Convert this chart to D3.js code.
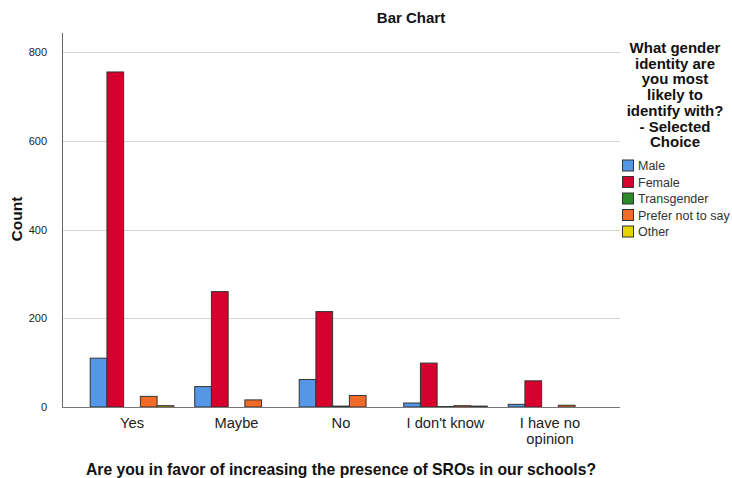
<!DOCTYPE html>
<html><head><meta charset="utf-8">
<script src="https://cdn.jsdelivr.net/npm/d3@7"></script>
<style>body{margin:0;background:#fff;}svg{display:block;font-family:"Liberation Sans",Arial,sans-serif;}</style>
</head><body><svg id="c" width="732" height="478"></svg>
<script>
const categories = ["Yes", "Maybe", "No", "I don't know", "I have no opinion"];
const categoryLines = [["Yes"], ["Maybe"], ["No"], ["I don't know"], ["I have no", "opinion"]];
const seriesNames = ["Male", "Female", "Transgender", "Prefer not to say", "Other"];
const seriesColors = ["#5596e6", "#d6002f", "#2a8a2a", "#f26a28", "#e6d400"];
const male = [110, 46, 62, 9, 6];
const female = [755, 260, 215, 99, 59];
const transgender = [0, 0, 2, 1, 0];
const preferNot = [24, 16, 26, 3, 4];
const other = [3, 0, 0, 2, 0];
const yTicks = [0, 200, 400, 600, 800];
const legendTitle = ["What gender", "identity are", "you most", "likely to", "identify with?", "- Selected", "Choice"];

(function () {
const seriesValues = [male, female, transgender, preferNot, other];
const svg = d3.select("#c");
const pLeft = 62, pRight = 620, pTop = 33, pBottom = 407;

const y = d3.scaleLinear().domain([0, 840]).range([pBottom, pBottom - 840 * (355 / 800)]);
const x0 = d3.scaleBand().domain(categories).range([pLeft, pRight]).paddingInner(0.2).paddingOuter(0.27);
const x1 = d3.scaleBand().domain(seriesNames).range([0, x0.bandwidth()]);

// gridlines
svg.append("g").selectAll("line").data(yTicks.filter(t => t > 0)).join("line")
  .attr("x1", pLeft).attr("x2", pRight).attr("y1", d => Math.round(y(d)) + 0.5).attr("y2", d => Math.round(y(d)) + 0.5)
  .attr("stroke", "#d4d4d4").attr("stroke-width", 1);

// bars
const g = svg.append("g");
categories.forEach((c, ci) => {
  seriesNames.forEach((s, si) => {
    const v = seriesValues[si][ci];
    if (v <= 0) return;
    const x = x0(c) + x1(s);
    g.append("rect").attr("x", x).attr("y", y(v)).attr("width", x1.bandwidth()).attr("height", y(0) - y(v))
      .attr("fill", seriesColors[si]).attr("stroke", "#333").attr("stroke-width", 1);
  });
});

// axes lines
svg.append("line").attr("x1", pLeft + 0.5).attr("x2", pLeft + 0.5).attr("y1", pTop).attr("y2", pBottom).attr("stroke", "#666");
svg.append("line").attr("x1", pLeft).attr("x2", pRight).attr("y1", Math.round(y(0)) + 0.5).attr("y2", Math.round(y(0)) + 0.5).attr("stroke", "#777");

// y tick labels
svg.append("g").selectAll("text").data(yTicks).join("text")
  .attr("x", 47).attr("y", d => y(d) + 4).attr("text-anchor", "end")
  .attr("font-size", 11).attr("fill", "#222").text(d => d);

// x labels
categories.forEach((c, ci) => {
  const cx = x0(c) + x0.bandwidth() / 2;
  const t = svg.append("text").attr("x", cx).attr("y", 428).attr("text-anchor", "middle")
    .attr("font-size", 14.7).attr("fill", "#222");
  categoryLines[ci].forEach((ln, li) => {
    t.append("tspan").attr("x", cx).attr("dy", li === 0 ? 0 : 16).text(ln);
  });
});

// titles
svg.append("text").attr("x", 411).attr("y", 23).attr("text-anchor", "middle")
  .attr("font-size", 15).attr("font-weight", "bold").attr("fill", "#111").text("Bar Chart");
svg.append("text").attr("x", 341).attr("y", 475).attr("text-anchor", "middle")
  .attr("font-size", 15.7).attr("font-weight", "bold").attr("fill", "#111")
  .text("Are you in favor of increasing the presence of SROs in our schools?");
svg.append("text").attr("transform", "translate(22,219) rotate(-90)").attr("text-anchor", "middle")
  .attr("font-size", 15.5).attr("font-weight", "bold").attr("fill", "#111").text("Count");

// legend
const lt = svg.append("text").attr("text-anchor", "middle").attr("font-size", 15).attr("font-weight", "bold").attr("fill", "#111");
legendTitle.forEach((ln, i) => {
  lt.append("tspan").attr("x", 675).attr("y", 53 + i * 15.7).text(ln);
});
seriesNames.forEach((s, i) => {
  const yy = 160 + i * 16.5;
  svg.append("rect").attr("x", 622.5).attr("y", yy).attr("width", 11).attr("height", 11)
    .attr("fill", seriesColors[i]).attr("stroke", "#333");
  svg.append("text").attr("x", 638).attr("y", yy + 10).attr("font-size", 12.5).attr("fill", "#333").text(s);
});
})();
</script></body></html>
